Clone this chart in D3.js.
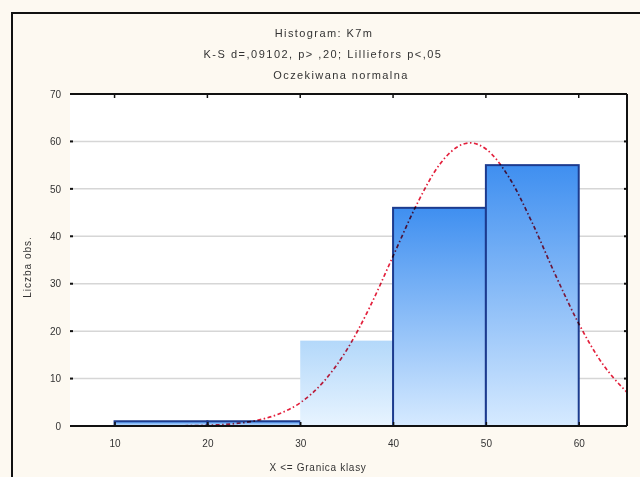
<!DOCTYPE html>
<html>
<head>
<meta charset="utf-8">
<script src="https://cdn.jsdelivr.net/npm/d3@7"></script>
<style>
  html, body { margin: 0; padding: 0; background: #fdf9f1; }
  svg { display: block; }
  text { font-family: "Liberation Sans", Arial, sans-serif; fill: #333; }
</style>
</head>
<body>
<svg id="chart" width="640" height="477"></svg>
<script>
// Histogram bins (lower edge, upper edge) and counts
const binStarts = [10, 20, 30, 40, 50];
const binEnds   = [20, 30, 40, 50, 60];
const counts    = [1, 1, 18, 46, 55];

// Expected normal curve, sampled along the variable
const curveX = [17.5, 20, 22.5, 25, 27.5, 30, 32.5, 35, 37.5, 40, 42.5, 45, 47.5, 48.3, 50, 52.5, 55, 57.5, 60, 62.5, 65, 65.2];
const curveY = [0.05, 0.15, 0.42, 1.05, 2.4, 4.9, 9.3, 16.0, 25.1, 35.8, 46.5, 55.1, 59.4, 59.7, 58.4, 52.4, 42.8, 31.8, 21.6, 13.3, 7.5, 7.1];

// Axis ticks
const xTicks = [10, 20, 30, 40, 50, 60];
const yTicks = [0, 10, 20, 30, 40, 50, 60, 70];

// Title and axis texts
const titleLines = [
  "Histogram: K7m",
  "K-S d=,09102, p> ,20; Lilliefors p<,05",
  "Oczekiwana normalna"
];
const xLabel = "X <= Granica klasy";
const yLabel = "Liczba obs.";

const paleBinStart = 30;

const svg = d3.select("#chart");
const pLeft = 70, pRight = 627, pTop = 94, pBottom = 426;

const x = d3.scaleLinear().domain([5.2, 65.2]).range([pLeft, pRight]);
const y = d3.scaleLinear().domain([0, 70]).range([pBottom, pTop]);

// Outer frame
svg.append("rect")
  .attr("x", 12).attr("y", 13).attr("width", 640).attr("height", 480)
  .attr("fill", "#fdf9f1").attr("stroke", "#111").attr("stroke-width", 2);

// Plot area
svg.append("rect")
  .attr("x", pLeft).attr("y", pTop).attr("width", pRight - pLeft).attr("height", pBottom - pTop)
  .attr("fill", "#ffffff");

// Gradients
const defs = svg.append("defs");
const g1 = defs.append("linearGradient").attr("id", "barGrad").attr("x1", 0).attr("y1", 0).attr("x2", 0).attr("y2", 1);
g1.append("stop").attr("offset", "0%").attr("stop-color", "#3f8ff0");
g1.append("stop").attr("offset", "100%").attr("stop-color", "#d6eaff");
const g2 = defs.append("linearGradient").attr("id", "paleGrad").attr("x1", 0).attr("y1", 0).attr("x2", 0).attr("y2", 1);
g2.append("stop").attr("offset", "0%").attr("stop-color", "#b3d8fa");
g2.append("stop").attr("offset", "100%").attr("stop-color", "#e8f4ff");

// Grid lines
svg.append("g").selectAll("line")
  .data(yTicks.filter(v => v > 0 && v < 70))
  .join("line")
  .attr("x1", pLeft).attr("x2", pRight)
  .attr("y1", d => y(d)).attr("y2", d => y(d))
  .attr("stroke", "#d6d6d6").attr("stroke-width", 1.5);

// Bars
const bins = binStarts.map((s, i) => ({ s, e: binEnds[i], c: counts[i] }));
svg.append("g").selectAll("rect")
  .data(bins)
  .join("rect")
  .attr("x", d => x(d.s))
  .attr("y", d => y(d.c))
  .attr("width", d => x(d.e) - x(d.s))
  .attr("height", d => y(0) - y(d.c))
  .attr("fill", d => d.s === paleBinStart ? "url(#paleGrad)" : "url(#barGrad)")
  .attr("stroke", d => d.s === paleBinStart ? "none" : "#1c3b8e")
  .attr("stroke-width", 2);

// Expected normal curve
const line = d3.line()
  .x((d, i) => x(curveX[i]))
  .y(d => y(d))
  .curve(d3.curveMonotoneX);
svg.append("path")
  .datum(curveY)
  .attr("d", line)
  .attr("fill", "none")
  .attr("stroke", "#e3203c")
  .attr("stroke-width", 1.7)
  .attr("stroke-dasharray", "4,2.5,1.5,2.5")
  .style("mix-blend-mode", "multiply");

// Axes frame: bottom, top, right
const axisColor = "#111";
svg.append("line").attr("x1", pLeft).attr("x2", pRight).attr("y1", pBottom).attr("y2", pBottom)
  .attr("stroke", axisColor).attr("stroke-width", 2);
svg.append("line").attr("x1", pLeft).attr("x2", pRight).attr("y1", pTop).attr("y2", pTop)
  .attr("stroke", axisColor).attr("stroke-width", 2);
svg.append("line").attr("x1", pRight).attr("x2", pRight).attr("y1", pTop).attr("y2", pBottom)
  .attr("stroke", axisColor).attr("stroke-width", 2);

// X axis ticks and labels
const xAxis = d3.axisBottom(x).tickValues(xTicks).tickSize(4).tickPadding(8).tickFormat(d3.format("d"));
const gx = svg.append("g").attr("transform", `translate(0,${pBottom})`).call(xAxis);
gx.select(".domain").remove();
gx.selectAll(".tick line").attr("stroke", axisColor).attr("y2", -4).attr("stroke-width", 1.5);
gx.selectAll(".tick text").attr("font-size", 10).attr("fill", "#333").attr("dy", "0.9em")
  .style("font-family", "'Liberation Sans', Arial, sans-serif");

// Top ticks mirrored
svg.append("g").selectAll("line").data(xTicks).join("line")
  .attr("x1", d => x(d)).attr("x2", d => x(d)).attr("y1", pTop).attr("y2", pTop + 4)
  .attr("stroke", axisColor).attr("stroke-width", 1.5);

// Y axis ticks and labels
const yAxis = d3.axisLeft(y).tickValues(yTicks).tickSize(0).tickPadding(9).tickFormat(d3.format("d"));
const gy = svg.append("g").attr("transform", `translate(${pLeft},0)`).call(yAxis);
gy.select(".domain").remove();
gy.selectAll(".tick text").attr("font-size", 10).attr("fill", "#333")
  .style("font-family", "'Liberation Sans', Arial, sans-serif");
svg.append("g").selectAll("line").data(yTicks).join("line")
  .attr("x1", pLeft).attr("x2", pLeft + 3).attr("y1", d => y(d)).attr("y2", d => y(d))
  .attr("stroke", axisColor).attr("stroke-width", 2);
// Right ticks mirrored
svg.append("g").selectAll("line").data(yTicks).join("line")
  .attr("x1", pRight - 3).attr("x2", pRight).attr("y1", d => y(d)).attr("y2", d => y(d))
  .attr("stroke", axisColor).attr("stroke-width", 2);

// Titles
const titleX = [324, 323, 341];
const titleSpacing = [1.4, 1.5, 1.4];
svg.append("g").selectAll("text").data(titleLines).join("text")
  .attr("x", (d, i) => titleX[i]).attr("y", (d, i) => 37 + i * 21)
  .attr("text-anchor", "middle")
  .attr("font-size", 11)
  .attr("letter-spacing", (d, i) => titleSpacing[i])
  .text(d => d);

// Axis labels
svg.append("text").attr("x", 318).attr("y", 471).attr("text-anchor", "middle")
  .attr("font-size", 10).attr("letter-spacing", 0.7).text(xLabel);
svg.append("text").attr("transform", "translate(31,267) rotate(-90)").attr("text-anchor", "middle")
  .attr("font-size", 10).attr("letter-spacing", 1).text(yLabel);
</script>
</body>
</html>
